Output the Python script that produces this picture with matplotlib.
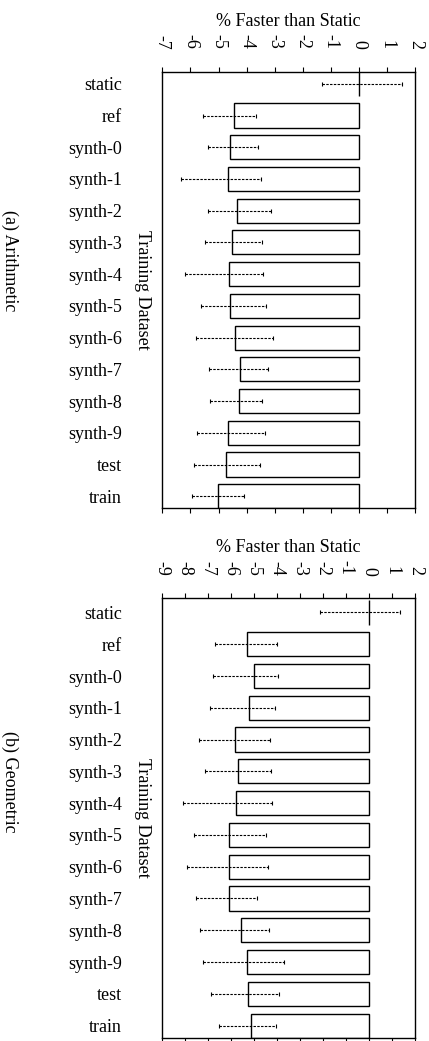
import numpy as np
import matplotlib
matplotlib.use("Agg")
import matplotlib.pyplot as plt

plt.rcParams["font.family"] = ["Liberation Serif", "DejaVu Serif"]
plt.rcParams["font.size"] = 13

datasets = ["static", "ref", "synth-0", "synth-1", "synth-2", "synth-3", "synth-4",
            "synth-5", "synth-6", "synth-7", "synth-8", "synth-9", "test", "train"]

# (a) arithmetic mean: value, lower and upper end of error bar
arith_val = [0.0, -4.46, -4.58, -4.68, -4.35, -4.52, -4.64, -4.59, -4.41, -4.23, -4.27, -4.68, -4.75, -5.02]
arith_lo = [-1.32, -5.54, -5.39, -6.32, -5.39, -5.47, -6.18, -5.62, -5.80, -5.34, -5.29, -5.77, -5.88, -5.93]
arith_hi = [1.54, -3.67, -3.58, -3.50, -3.14, -3.44, -3.40, -3.32, -3.05, -3.23, -3.46, -3.35, -3.51, -4.08]

# (b) geometric mean
geo_val = [0.0, -5.30, -5.03, -5.24, -5.82, -5.70, -5.80, -6.10, -6.11, -6.11, -5.57, -5.33, -5.26, -5.13]
geo_lo = [-2.13, -6.72, -6.78, -6.91, -7.39, -7.13, -8.09, -7.61, -7.94, -7.52, -7.35, -7.22, -6.87, -6.52]
geo_hi = [1.35, -4.03, -3.97, -4.09, -4.33, -4.27, -4.22, -4.50, -4.42, -4.90, -4.35, -3.70, -3.94, -4.04]

fig = plt.figure(figsize=(4.29, 10.41), dpi=100)
ax1 = fig.add_axes([0.3783, 0.5117, 0.5897, 0.4188])
ax2 = fig.add_axes([0.3783, 0.0032, 0.5897, 0.4219])


def draw(ax, vals, lo, hi, xmin, xmax, ytop):
    y = np.arange(len(datasets))
    vals = np.array(vals)
    xerr = np.vstack([vals - np.array(lo), np.array(hi) - vals])
    ax.barh(y, vals, height=0.76, color="white", edgecolor="black", linewidth=1.0, zorder=2)
    eb = ax.errorbar(vals, y, xerr=xerr, fmt="none", ecolor="black", elinewidth=0.8,
                     capsize=1.5, capthick=0.8, zorder=3)
    eb[2][0].set_linestyle((0, (2.2, 1.2)))
    ax.set_xlim(xmin, xmax)
    ax.set_ylim(13.38, ytop)
    ax.set_xticks(np.arange(xmin, xmax + 1))
    ax.set_xticklabels([str(v) for v in range(xmin, xmax + 1)], rotation=-90)
    ax.xaxis.tick_top()
    ax.xaxis.set_label_position("top")
    ax.tick_params(axis="x", which="both", top=True, bottom=True, direction="out",
                   length=3.6, width=0.8, pad=13, labelsize=13)
    ax.tick_params(axis="y", length=0, pad=29, labelsize=13)
    ax.set_yticks(y)
    ax.set_yticklabels(datasets)
    ax.set_xlabel("% Faster than Static", labelpad=6, fontsize=13)
    ax.text(-0.078, 0.5, "Training Dataset", transform=ax.transAxes, rotation=-90,
            ha="center", va="center", fontsize=13)
    for s in ax.spines.values():
        s.set_linewidth(1.0)


draw(ax1, arith_val, arith_lo, arith_hi, -7, 2, -0.36)
draw(ax2, geo_val, geo_lo, geo_hi, -9, 2, -0.44)

fig.text(0.023, 0.750, "(a) Arithmetic", rotation=-90, ha="center", va="center", fontsize=13)
fig.text(0.023, 0.249, "(b) Geometric", rotation=-90, ha="center", va="center", fontsize=13)

fig.savefig("out.png", dpi=100)
